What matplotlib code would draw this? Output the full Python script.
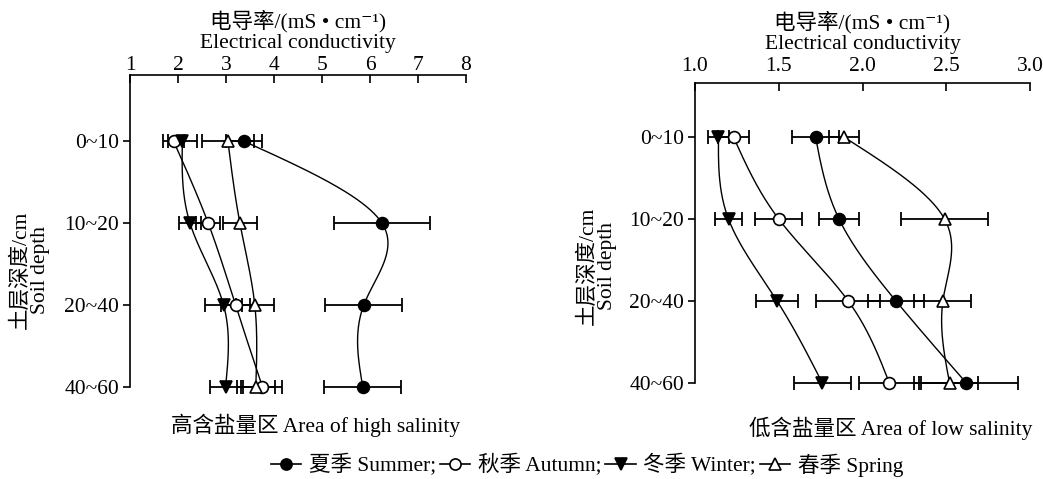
import matplotlib
matplotlib.use("Agg")
import matplotlib.pyplot as plt
from matplotlib.lines import Line2D
import numpy as np

plt.rcParams['font.family'] = ['Liberation Serif', 'Noto Sans CJK SC', 'DejaVu Serif']

depths = ["0~10", "10~20", "20~40", "40~60"]
seasons = ["夏季 Summer;", "秋季 Autumn;", "冬季 Winter;", "春季 Spring"]

# high salinity area: mean and error per depth
high_summer = [3.38, 6.25, 5.87, 5.85]
high_summer_err = [0.37, 1.0, 0.8, 0.8]
high_autumn = [1.91, 2.63, 3.20, 3.76]
high_autumn_err = [0.22, 0.25, 0.30, 0.40]
high_winter = [2.09, 2.25, 2.95, 2.99]
high_winter_err = [0.30, 0.23, 0.38, 0.32]
high_spring = [3.04, 3.29, 3.60, 3.62]
high_spring_err = [0.55, 0.35, 0.40, 0.40]

# low salinity area
low_summer = [1.72, 1.86, 2.20, 2.62]
low_summer_err = [0.14, 0.12, 0.17, 0.31]
low_autumn = [1.23, 1.50, 1.915, 2.16]
low_autumn_err = [0.09, 0.14, 0.19, 0.18]
low_winter = [1.14, 1.20, 1.49, 1.76]
low_winter_err = [0.06, 0.08, 0.125, 0.17]
low_spring = [1.89, 2.49, 2.48, 2.52]
low_spring_err = [0.09, 0.26, 0.17, 0.17]

FS = 15.5
styles = [
    dict(marker='o', mfc='black', ms=8.5),
    dict(marker='o', mfc='white', ms=8.5),
    dict(marker='v', mfc='black', ms=9),
    dict(marker='^', mfc='white', ms=9),
]


def natural_spline(y, n=120):
    # natural cubic spline through equally spaced points
    y = np.asarray(y, float)
    k = len(y)
    A = np.zeros((k, k))
    b = np.zeros(k)
    A[0, 0] = A[-1, -1] = 1
    for i in range(1, k - 1):
        A[i, i - 1:i + 2] = [1, 4, 1]
        b[i] = 6 * (y[i + 1] - 2 * y[i] + y[i - 1])
    M = np.linalg.solve(A, b)
    ts, vs = [], []
    for i in range(k - 1):
        t = np.linspace(0, 1, n)
        v = ((1 - t) * y[i] + t * y[i + 1]
             + ((1 - t) ** 3 - (1 - t)) * M[i] / 6 + (t ** 3 - t) * M[i + 1] / 6)
        ts.append(i + t)
        vs.append(v)
    return np.concatenate(vs), np.concatenate(ts)


def draw_panel(ax, series, xticks, xticklabels, xlim, ytop, tickpad):
    pos = np.arange(len(depths))
    for (vals, errs), st in zip(series, styles):
        xs, ts = natural_spline(vals)
        ax.plot(xs, ts, color='black', lw=1.0, clip_on=False)
        ax.errorbar(vals, pos, xerr=errs, fmt='none', ecolor='black',
                    elinewidth=1.3, capsize=5, capthick=1.3, clip_on=False)
        ax.plot(vals, pos, ls='none', marker=st['marker'], mfc=st['mfc'],
                mec='black', mew=1.2, ms=st['ms'], clip_on=False, zorder=5)
    ax.set_xlim(*xlim)
    ax.set_ylim(3, ytop)
    ax.xaxis.tick_top()
    ax.xaxis.set_label_position('top')
    ax.set_xticks(xticks)
    ax.set_xticklabels(xticklabels)
    ax.set_yticks(pos)
    ax.set_yticklabels(depths)
    ax.tick_params(axis='x', direction='in', length=6, width=1.2, pad=tickpad, labelsize=FS)
    ax.tick_params(axis='y', direction='out', length=5, width=1.2, pad=3, labelsize=FS)
    for s in ['right', 'bottom']:
        ax.spines[s].set_visible(False)
    for s in ['left', 'top']:
        ax.spines[s].set_linewidth(1.2)
    ax.set_xlabel("电导率/(mS • cm⁻¹)\nElectrical conductivity", fontsize=FS,
                  labelpad=6, linespacing=1.1)


fig = plt.figure(figsize=(10.43, 4.79), dpi=100)
W, H = 1043, 479

ax1 = fig.add_axes([130 / W, 1 - 387 / H, (466 - 130) / W, (387 - 75) / H])
draw_panel(ax1,
           [(high_summer, high_summer_err), (high_autumn, high_autumn_err),
            (high_winter, high_winter_err), (high_spring, high_spring_err)],
           range(1, 9), [str(v) for v in range(1, 9)], (1, 8), -0.81, 0)

ax2 = fig.add_axes([695 / W, 1 - 383 / H, (1030 - 695) / W, (383 - 83) / H])
rticks = [1.0, 1.5, 2.0, 2.5, 3.0]
draw_panel(ax2,
           [(low_summer, low_summer_err), (low_autumn, low_autumn_err),
            (low_winter, low_winter_err), (low_spring, low_spring_err)],
           rticks, [f"{v:.1f}" for v in rticks], (1.0, 3.0), -0.66, 5)

for xc, yc in [(30, 270), (597, 266)]:
    fig.text(xc / W, 1 - yc / H, "土层深度/cm\nSoil depth", rotation=90,
             ha='center', va='center', fontsize=FS, linespacing=1.0)

fig.text(316 / W, 1 - 425 / H, "高含盐量区 Area of high salinity",
         ha='center', va='center', fontsize=FS)
fig.text(891 / W, 1 - 428 / H, "低含盐量区 Area of low salinity",
         ha='center', va='center', fontsize=FS)

handles = [Line2D([], [], color='black', lw=1.2, marker=st['marker'], mfc=st['mfc'],
                  mec='black', mew=1.2, ms=st['ms'] - 0.5) for st in styles]
fig.legend(handles, seasons, loc='center', bbox_to_anchor=(587 / W, 1 - 465 / H),
           ncol=4, frameon=False, fontsize=FS, handlelength=1.4,
           handletextpad=0.35, columnspacing=0.2, borderpad=0)

fig.savefig("out.png", dpi=100)
